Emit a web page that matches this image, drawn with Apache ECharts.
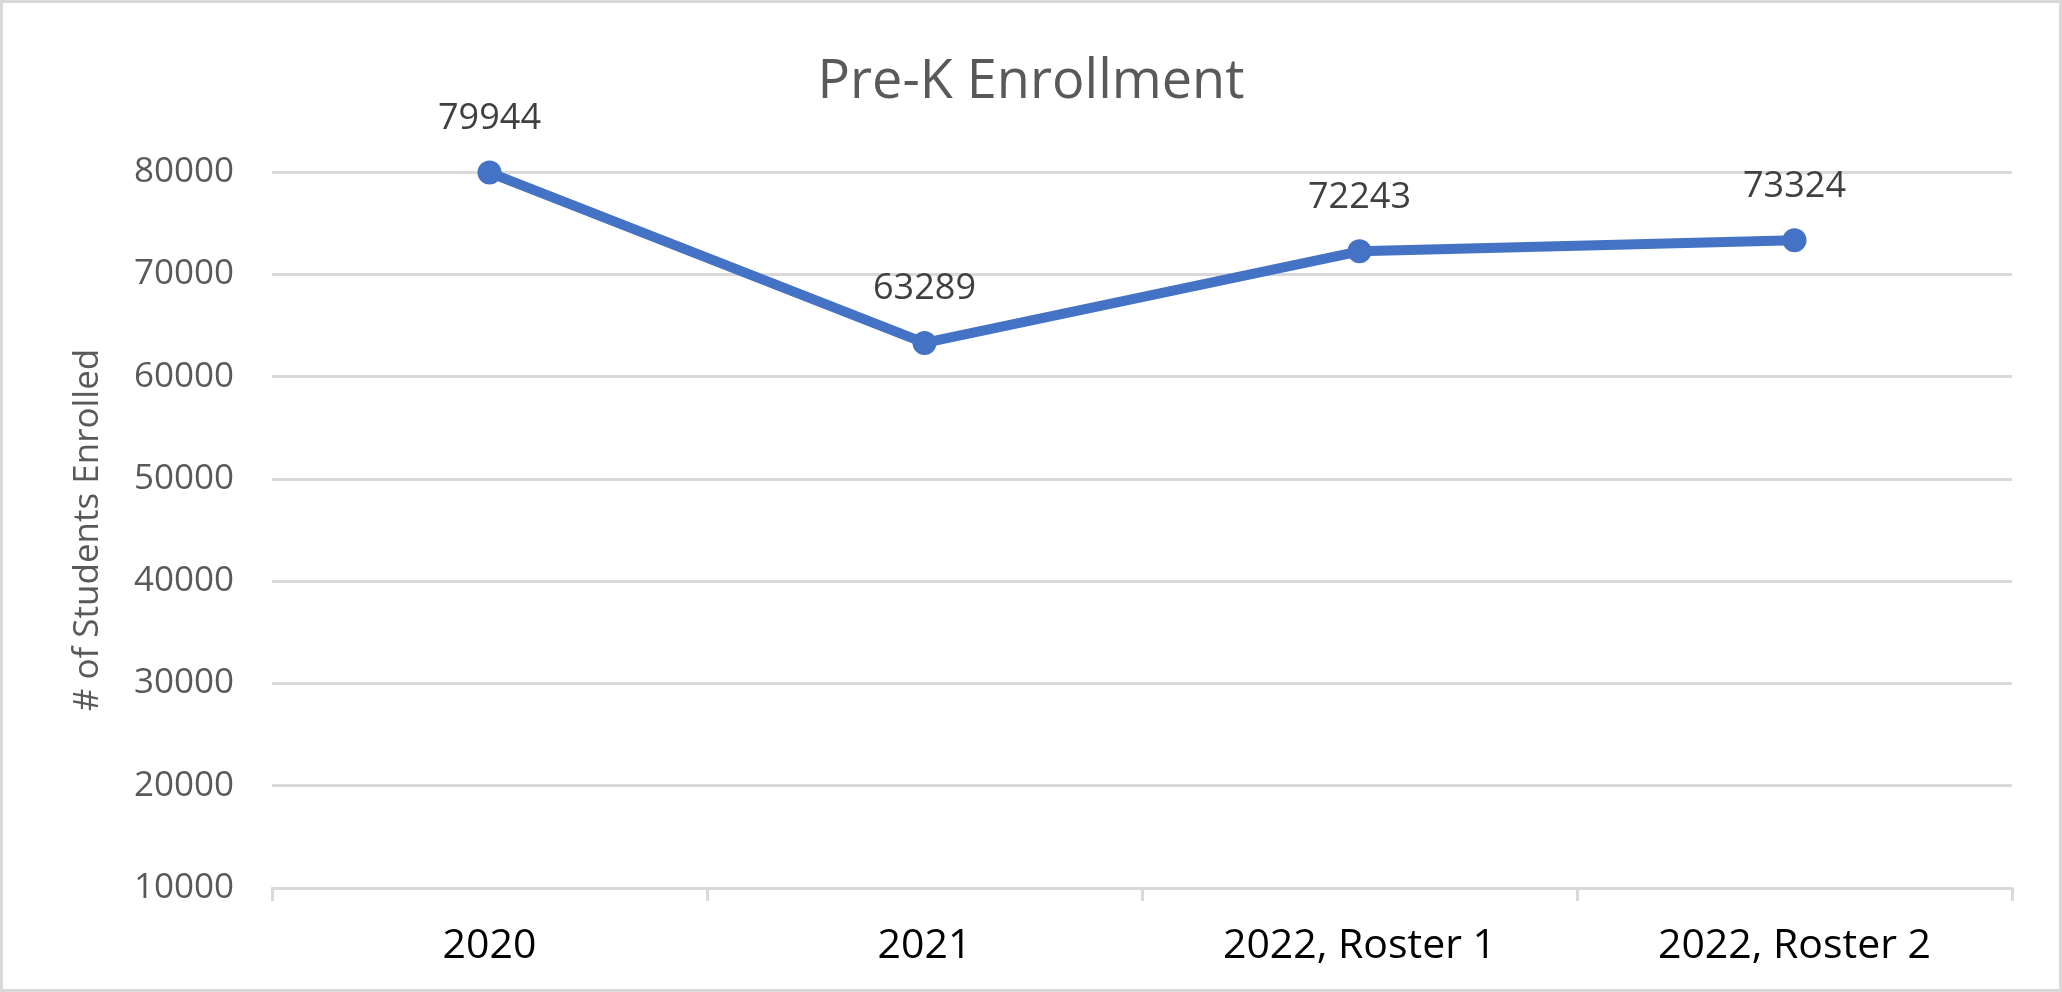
<!DOCTYPE html>
<html>
<head>
<meta charset="utf-8">
<script src="https://cdn.jsdelivr.net/npm/echarts@6/dist/echarts.min.js"></script>
<style>
  html, body { margin: 0; padding: 0; background: #fff; }
  #chart {
    width: 2062px;
    height: 992px;
    box-sizing: border-box;
    border: 3px solid #d9d9d9;
  }
</style>
</head>
<body>
<div id="chart"></div>
<script>
const categories = ['2020', '2021', '2022, Roster 1', '2022, Roster 2']
const enrolled = [79944, 63289, 72243, 73324]
const yMin = 10000
const yMax = 80000
const yStep = 10000

const chart = echarts.init(document.getElementById('chart'))
chart.setOption({
  backgroundColor: '#fff',
  animation: false,
  title: {
    text: 'Pre-K Enrollment',
    left: 'center',
    top: 48,
    textStyle: {
      color: '#595959',
      fontFamily: 'Open Sans',
      fontWeight: 'normal',
      fontSize: 54
    }
  },
  grid: {
    left: 269,
    right: 47,
    top: 169,
    bottom: 101
  },
  xAxis: {
    type: 'category',
    data: categories,
    boundaryGap: true,
    axisLine: { lineStyle: { color: '#d9d9d9', width: 3 } },
    axisTick: { show: true, length: 13, lineStyle: { color: '#d9d9d9', width: 3 } },
    axisLabel: {
      color: '#000',
      fontFamily: 'Open Sans',
      fontSize: 41,
      margin: 38
    }
  },
  yAxis: {
    type: 'value',
    min: yMin,
    max: yMax,
    interval: yStep,
    name: '# of Students Enrolled',
    nameLocation: 'middle',
    nameGap: 166,
    nameTextStyle: {
      color: '#595959',
      fontFamily: 'Open Sans',
      fontSize: 35
    },
    axisLine: { show: false },
    axisTick: { show: false },
    axisLabel: {
      color: '#595959',
      fontFamily: 'Open Sans',
      fontSize: 35,
      margin: 38,
      formatter: function(v) {
        return String(v)
      }
    },
    splitLine: { lineStyle: { color: '#d9d9d9', width: 3 } }
  },
  series: [{
    type: 'line',
    data: enrolled,
    symbol: 'circle',
    symbolSize: 24,
    lineStyle: { color: '#4472c4', width: 10 },
    itemStyle: { color: '#4472c4' },
    label: {
      show: true,
      position: 'top',
      distance: 24,
      color: '#404040',
      fontFamily: 'Open Sans',
      fontSize: 36
    }
  }]
})
</script>
</body>
</html>
